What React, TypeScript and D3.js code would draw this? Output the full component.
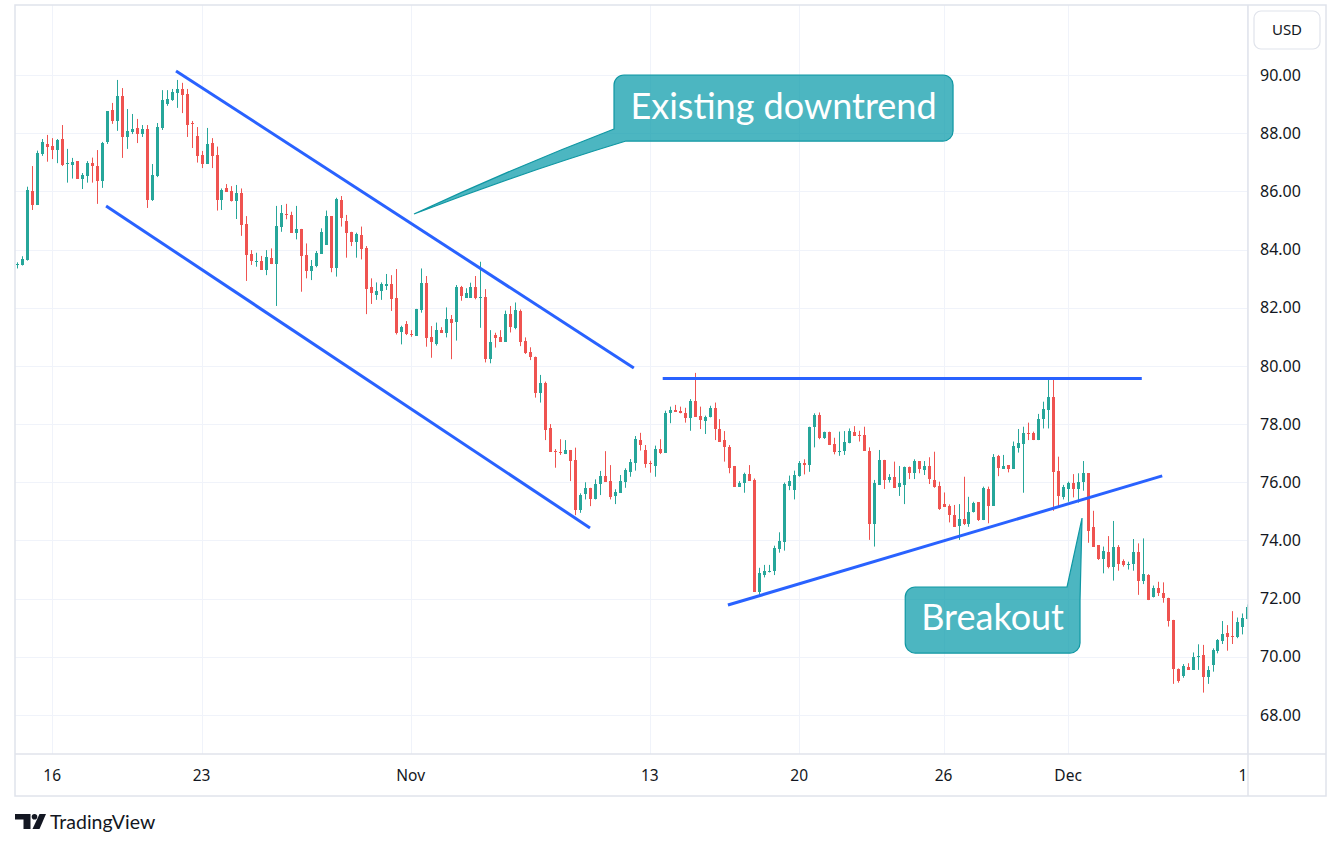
import React from "react";
import * as d3 from "d3";

const OPEN = [
83.47,83.47,83.64,86.01,85.53,87.28,87.63,87.56,87.42,87.80,
86.95,86.92,87.04,86.43,86.53,86.97,86.87,86.36,87.70,88.80,
88.42,89.28,87.87,88.04,88.18,87.97,88.14,85.70,86.53,88.18,
89.00,89.14,89.38,89.52,89.35,88.35,87.90,87.25,86.94,87.66,
87.25,85.70,86.10,86.01,85.68,85.96,84.88,83.85,83.58,83.61,
83.30,83.72,83.50,84.76,85.21,85.19,84.58,84.71,83.81,83.27,
83.45,83.85,84.16,85.15,83.38,85.70,84.98,84.61,84.27,84.50,
84.06,82.72,82.44,82.59,82.76,82.82,82.32,81.18,81.44,81.08,
81.04,81.92,82.86,80.98,80.75,81.23,81.14,81.60,81.52,82.70,
82.35,82.35,82.72,82.35,82.36,80.24,81.06,80.98,80.83,81.78,
81.31,81.90,80.86,80.49,80.32,79.08,79.42,77.85,77.07,77.05,
76.97,77.11,76.77,75.05,75.58,75.81,75.41,75.93,76.21,76.04,
75.54,75.64,76.02,76.36,76.65,77.45,77.11,76.67,76.57,77.13,
77.02,78.37,78.48,78.45,78.39,78.22,78.79,78.28,78.12,78.23,
78.56,77.83,77.45,77.22,76.56,75.85,75.96,76.28,76.08,72.24,
72.81,72.90,72.95,73.70,73.96,75.87,75.73,76.21,76.65,76.61,
77.89,78.31,77.51,77.74,77.32,77.06,77.09,77.34,77.74,77.62,
77.62,77.09,74.55,75.91,76.77,76.08,76.17,75.85,75.91,76.54,
76.33,76.73,76.42,76.56,76.08,75.88,75.25,75.20,74.87,74.50,
74.73,74.55,74.99,75.31,74.70,75.77,75.20,76.90,76.46,76.59,
76.46,77.19,77.30,77.71,77.71,77.45,78.16,78.48,78.92,76.39,
75.50,75.77,75.96,75.76,76.02,76.31,74.45,73.84,73.36,73.59,
73.08,73.76,73.29,73.16,73.18,73.59,72.62,72.81,72.07,72.35,
72.18,72.03,71.27,69.58,69.34,69.64,69.55,69.98,70.06,69.32,
69.72,70.21,70.55,70.81,70.71,70.67,71.04,71.29];

const HIGH = [
83.56,83.77,86.16,86.87,87.40,87.80,87.94,87.83,87.80,88.28,
87.46,87.15,87.04,86.63,87.04,87.16,87.42,87.70,88.76,89.04,
89.83,89.55,88.83,88.66,88.49,88.28,88.28,86.94,88.35,89.48,
89.48,89.52,89.83,89.73,89.52,88.42,88.21,87.39,88.18,87.83,
87.54,86.10,86.25,86.18,86.22,86.10,85.15,83.98,83.89,83.78,
83.98,84.04,85.50,85.53,85.57,85.30,85.50,84.71,84.21,83.64,
83.95,84.73,85.34,85.15,85.78,85.84,85.19,84.61,84.58,84.79,
84.12,83.01,82.87,82.87,83.16,83.12,83.33,81.38,81.54,81.23,
81.96,83.35,83.09,81.37,81.49,81.33,82.01,81.75,82.78,82.75,
82.67,82.86,83.09,83.58,82.64,81.23,81.14,81.23,81.90,82.06,
82.18,81.94,80.98,80.64,80.32,79.69,79.46,78.00,77.14,77.48,
77.45,77.11,77.19,75.62,76.00,75.81,76.10,76.39,77.07,76.59,
75.76,76.25,76.48,76.80,77.59,77.70,77.28,76.74,77.26,77.48,
78.46,78.60,78.66,78.60,78.56,78.86,79.76,78.60,78.29,78.63,
78.74,78.17,77.76,77.28,76.56,76.04,76.33,76.59,76.13,73.06,
73.16,73.16,73.82,74.28,75.99,76.23,76.40,76.73,76.79,77.91,
78.37,78.40,77.74,77.74,77.53,77.74,77.76,77.85,77.93,77.77,
77.91,77.20,76.08,77.11,76.77,76.28,76.71,76.56,76.54,76.54,
76.79,76.73,76.73,76.86,77.05,76.02,75.65,75.24,75.22,75.25,
76.19,75.50,75.33,75.31,75.85,75.85,76.97,76.94,76.94,76.59,
77.40,77.83,77.91,78.05,77.74,78.35,78.77,79.54,79.54,76.88,
75.91,76.02,76.28,76.31,76.73,76.31,75.02,73.84,73.79,74.15,
74.67,73.84,73.35,73.27,74.05,73.90,74.07,72.84,72.45,72.58,
72.56,72.03,71.27,69.60,69.75,69.78,70.15,70.43,70.41,69.68,
70.29,70.61,71.23,71.09,71.57,71.35,71.49,71.80];

const LOW = [
83.35,83.45,83.62,85.36,85.53,87.22,87.02,87.11,86.97,86.87,
86.30,86.44,86.43,86.08,86.30,86.30,85.57,86.12,87.63,88.32,
88.08,87.15,87.46,87.97,87.66,87.87,85.43,85.67,86.49,88.11,
88.94,89.11,88.87,88.69,87.87,87.49,86.99,86.80,86.94,86.80,
85.34,85.36,85.99,85.65,85.05,84.47,82.92,83.47,83.41,83.30,
83.12,83.50,82.06,84.61,85.04,84.58,84.35,82.55,83.01,82.95,
83.39,83.85,84.16,83.22,83.07,84.79,83.72,84.12,83.72,83.66,
81.78,82.13,82.27,82.27,82.61,81.89,81.08,80.74,81.06,81.00,
81.03,81.83,80.66,80.28,80.70,81.14,80.98,80.23,80.87,82.24,
82.35,82.35,82.29,81.31,80.12,80.09,80.63,80.83,80.83,81.15,
81.26,80.68,80.41,80.20,78.91,78.74,77.45,77.05,76.50,76.94,
76.97,76.04,74.87,74.95,75.41,75.18,75.41,75.56,76.02,75.41,
75.25,75.64,75.81,76.19,76.40,77.09,76.50,76.33,76.19,76.97,
77.02,78.03,78.43,78.37,78.05,77.77,78.25,77.83,77.66,78.23,
77.45,77.40,76.71,76.31,75.85,75.85,75.64,76.05,72.24,72.12,
72.73,72.90,72.81,73.58,73.65,75.73,75.41,76.19,76.27,76.36,
77.20,77.48,77.49,77.28,76.96,76.91,76.94,77.34,77.60,77.40,
77.09,74.02,73.79,75.91,75.77,75.99,75.81,75.53,75.25,76.11,
76.11,76.31,76.25,75.94,75.81,75.05,75.16,74.62,74.47,74.02,
74.53,74.47,74.96,74.67,74.70,74.59,75.20,76.21,76.46,76.34,
76.46,77.02,75.64,77.45,77.45,77.45,77.85,77.85,75.02,75.16,
75.41,75.33,75.48,75.30,75.71,73.92,73.79,73.33,72.87,73.04,
72.62,72.96,73.10,73.00,72.96,72.13,72.50,71.95,72.04,72.09,
71.86,71.04,69.07,69.11,69.28,69.55,69.55,69.55,68.77,69.07,
69.49,70.12,70.44,70.21,70.44,70.64,70.77,71.29];

const CLOSE = [
83.52,83.67,86.05,85.53,87.32,87.70,87.53,87.42,87.77,86.90,
86.97,87.01,86.43,86.56,86.97,86.87,86.36,87.66,88.76,88.42,
89.28,87.87,88.08,88.14,87.97,88.14,85.70,86.56,88.21,89.14,
89.18,89.42,89.52,89.31,88.28,88.32,87.22,86.94,87.63,87.22,
85.70,86.05,85.99,85.67,85.96,84.84,83.81,83.62,83.60,83.30,
83.76,83.50,84.81,85.24,85.19,84.58,84.71,83.79,83.27,83.45,
83.89,84.61,85.15,83.38,85.74,85.10,84.58,84.27,84.52,84.02,
82.64,82.52,82.57,82.80,82.82,82.30,81.14,81.33,81.08,81.06,
81.96,82.86,80.97,80.83,81.23,81.14,81.60,81.49,82.70,82.40,
82.52,82.72,82.35,82.37,80.24,80.83,80.97,80.83,81.78,81.35,
81.92,80.83,80.45,80.32,79.08,79.42,77.80,77.05,77.03,77.03,
77.11,76.74,75.05,75.56,75.81,75.41,75.93,76.21,76.02,75.50,
75.68,76.04,76.42,76.71,77.49,77.28,76.63,76.65,77.13,77.02,
78.39,78.48,78.43,78.37,78.22,78.79,78.25,78.14,78.23,78.56,
77.82,77.40,77.22,76.50,75.85,75.96,76.28,76.05,72.24,72.87,
72.96,72.95,73.73,73.98,75.94,76.04,76.25,76.65,76.59,77.89,
78.31,77.51,77.72,77.28,77.03,77.09,77.40,77.76,77.60,77.60,
77.09,74.57,75.96,76.77,76.08,76.19,75.81,75.96,76.54,76.31,
76.74,76.46,76.56,76.10,75.85,75.08,75.16,74.87,74.47,74.73,
74.55,74.97,75.28,74.70,75.81,75.20,76.88,76.50,76.56,76.46,
77.25,77.34,77.71,77.68,77.45,78.16,78.52,78.92,76.36,75.53,
75.83,75.96,75.77,76.02,76.31,74.34,73.79,73.36,73.64,73.08,
73.76,73.19,73.16,73.19,73.59,72.62,72.84,71.97,72.35,72.18,
72.03,71.24,69.58,69.18,69.68,69.55,70.00,70.03,69.32,69.55,
70.23,70.58,70.78,70.69,70.69,71.19,71.35,71.70];

const TICK_INDEX = [7, 37, 79, 127, 157, 186, 211, 247];
const TICK_LABELS = ["16", "23", "Nov", "13", "20", "26", "Dec", "11"];
const PRICE_TICKS = [68, 70, 72, 74, 76, 78, 80, 82, 84, 86, 88, 90];

// drawn trend lines: [candle index, price] pairs
const TRENDLINES: [number, number][][] = [
  [[31.87, 90.14], [123.8, 79.93]],
  [[17.83, 85.5], [115.0, 74.43]],
  [[129.6, 79.57], [225.8, 79.57]],
  [[142.7, 71.78], [229.9, 76.22]],
];

// callouts: box [leftIdx, topPrice, rightIdx, bottomPrice], tip [idx, price]
const CALLOUT_TEXT = ["Existing downtrend", "Breakout"];
const CALLOUT_BOX = [
  [119.82, 90.0, 187.9, 87.73],
  [178.3, 72.4, 213.4, 70.13],
];
const CALLOUT_TIP = [
  [79.66, 85.22],
  [213.8, 74.77],
];

const UP = "#26a69a";
const DOWN = "#ef5350";
const GRID = "#f0f3fa";
const BORDER = "#e0e3eb";
const TEXT = "#131722";
const LINE = "#2962ff";
const CALL_FILL = "rgba(0,151,167,0.70)";
const CALL_STROKE = "#0f97a3";

export default function App() {
  const n = Math.min(OPEN.length, HIGH.length, LOW.length, CLOSE.length);
  const x = d3.scaleLinear().domain([0, 247]).range([17.3, 17.3 + 4.98 * 247]);
  const y = d3.scaleLinear().domain([68, 90]).range([715, 75]);
  const PL = 15, PT = 5, PR = 1248, PB = 754, FR = 1326, FB = 796;

  const candles = d3.range(n).map((i) => {
    const o = OPEN[i], h = HIGH[i], l = LOW[i], c = CLOSE[i];
    const up = c >= o;
    const cx = Math.round(x(i));
    const top = Math.round(y(Math.max(o, c)));
    const bot = Math.round(y(Math.min(o, c)));
    const col = up ? UP : DOWN;
    return (
      <g key={i}>
        <line x1={cx + 0.5} x2={cx + 0.5} y1={y(h)} y2={y(l)} stroke={col} strokeWidth={1} />
        <rect x={cx - 1} y={top} width={3} height={Math.max(1, bot - top)} fill={col} />
      </g>
    );
  });

  // callout 1 path (tail from bottom-left)
  const r = 10;
  const b1 = CALLOUT_BOX[0];
  const L1 = x(b1[0]), T1 = y(b1[1]), R1 = x(b1[2]), B1 = y(b1[3]);
  const t1x = x(CALLOUT_TIP[0][0]), t1y = y(CALLOUT_TIP[0][1]);
  const p1 = d3.path();
  p1.moveTo(L1 + r, T1);
  p1.lineTo(R1 - r, T1);
  p1.arcTo(R1, T1, R1, T1 + r, r);
  p1.lineTo(R1, B1 - r);
  p1.arcTo(R1, B1, R1 - r, B1, r);
  p1.lineTo(L1 + 12, B1);
  p1.quadraticCurveTo((L1 + 12 + t1x) / 2 + 2, (B1 + t1y) / 2 - 5, t1x, t1y);
  p1.quadraticCurveTo((L1 + t1x) / 2, (B1 - 12 + t1y) / 2 - 4, L1, B1 - 12);
  p1.lineTo(L1, T1 + r);
  p1.arcTo(L1, T1, L1 + r, T1, r);
  p1.closePath();

  // callout 2 path (tail from top-right)
  const b2 = CALLOUT_BOX[1];
  const L2 = x(b2[0]), T2 = y(b2[1]), R2 = x(b2[2]), B2 = y(b2[3]);
  const t2x = x(CALLOUT_TIP[1][0]), t2y = y(CALLOUT_TIP[1][1]);
  const p2 = d3.path();
  p2.moveTo(L2 + r, T2);
  p2.lineTo(R2 - 13, T2);
  p2.lineTo(t2x, t2y);
  p2.lineTo(R2, T2 + 13);
  p2.lineTo(R2, B2 - r);
  p2.arcTo(R2, B2, R2 - r, B2, r);
  p2.lineTo(L2 + r, B2);
  p2.arcTo(L2, B2, L2, B2 - r, r);
  p2.lineTo(L2, T2 + r);
  p2.arcTo(L2, T2, L2 + r, T2, r);
  p2.closePath();

  const font = "'Noto Sans', Roboto, sans-serif";

  return (
    <svg
      width={1341}
      height={849}
      style={{ position: "absolute", left: 0, top: 0, background: "#fff" }}
    >
      <defs>
        <clipPath id="plot">
          <rect x={PL} y={PT} width={PR - PL} height={PB - PT} />
        </clipPath>
        <clipPath id="taxis">
          <rect x={PL} y={PB} width={PR - PL} height={FB - PB} />
        </clipPath>
      </defs>
      <rect x={0} y={0} width={1341} height={849} fill="#fff" />

      {/* grid */}
      <g clipPath="url(#plot)">
        {PRICE_TICKS.map((p) => (
          <line key={p} x1={PL} x2={PR} y1={Math.round(y(p)) + 0.5} y2={Math.round(y(p)) + 0.5} stroke={GRID} strokeWidth={1} />
        ))}
        {TICK_INDEX.map((ti) => (
          <line key={ti} x1={Math.round(x(ti)) + 0.5} x2={Math.round(x(ti)) + 0.5} y1={PT} y2={PB} stroke={GRID} strokeWidth={1} />
        ))}
      </g>

      {/* candles */}
      <g clipPath="url(#plot)">{candles}</g>

      {/* trend lines */}
      <g clipPath="url(#plot)">
        {TRENDLINES.map((seg, k) => (
          <line
            key={k}
            x1={x(seg[0][0])}
            y1={y(seg[0][1])}
            x2={x(seg[1][0])}
            y2={y(seg[1][1])}
            stroke={LINE}
            strokeWidth={3}
          />
        ))}
      </g>

      {/* callouts */}
      <path d={p1.toString()} fill={CALL_FILL} stroke={CALL_STROKE} strokeWidth={1.2} />
      <text x={(L1 + R1) / 2} y={T1 + 44} textAnchor="middle" fill="#fff" fontFamily="Lato, 'Noto Sans', sans-serif" fontSize={36}>
        {CALLOUT_TEXT[0]}
      </text>
      <path d={p2.toString()} fill={CALL_FILL} stroke={CALL_STROKE} strokeWidth={1.2} />
      <text x={(L2 + R2) / 2} y={T2 + 43} textAnchor="middle" fill="#fff" fontFamily="Lato, 'Noto Sans', sans-serif" fontSize={36}>
        {CALLOUT_TEXT[1]}
      </text>

      {/* frame */}
      <rect x={PL} y={PT} width={FR - PL} height={FB - PT} fill="none" stroke={BORDER} strokeWidth={1.5} />
      <line x1={PR} x2={PR} y1={PT} y2={FB} stroke={BORDER} strokeWidth={1.5} />
      <line x1={PL} x2={FR} y1={PB} y2={PB} stroke={BORDER} strokeWidth={1.5} />

      {/* price axis */}
      <rect x={1254} y={11} width={66} height={38} rx={7} fill="#fff" stroke={BORDER} strokeWidth={1.2} />
      <text x={1287} y={30} dy="0.35em" textAnchor="middle" fill={TEXT} fontFamily={font} fontSize={15}>
        USD
      </text>
      {PRICE_TICKS.map((p) => (
        <text key={p} x={1260} y={y(p)} dy="0.35em" fill={TEXT} fontFamily={font} fontSize={16}>
          {p.toFixed(2)}
        </text>
      ))}

      {/* time axis */}
      <g clipPath="url(#taxis)">
        {TICK_INDEX.map((ti, k) => (
          <text key={ti} x={x(ti)} y={776} dy="0.35em" textAnchor="middle" fill={TEXT} fontFamily={font} fontSize={15.5}>
            {TICK_LABELS[k]}
          </text>
        ))}
      </g>

      {/* TradingView logo */}
      <g fill={TEXT}>
        <path d="M15,814 H30.5 V829 H23.5 V819.5 H15 Z" />
        <circle cx={34.5} cy={816.8} r={2.8} />
        <path d="M39.5,814 H46 L39.5,829 H32.5 Z" />
        <text x={50} y={829} fontFamily="Lato, 'Noto Sans', sans-serif" fontSize={19.5} fill={TEXT}>
          TradingView
        </text>
      </g>
    </svg>
  );
}
